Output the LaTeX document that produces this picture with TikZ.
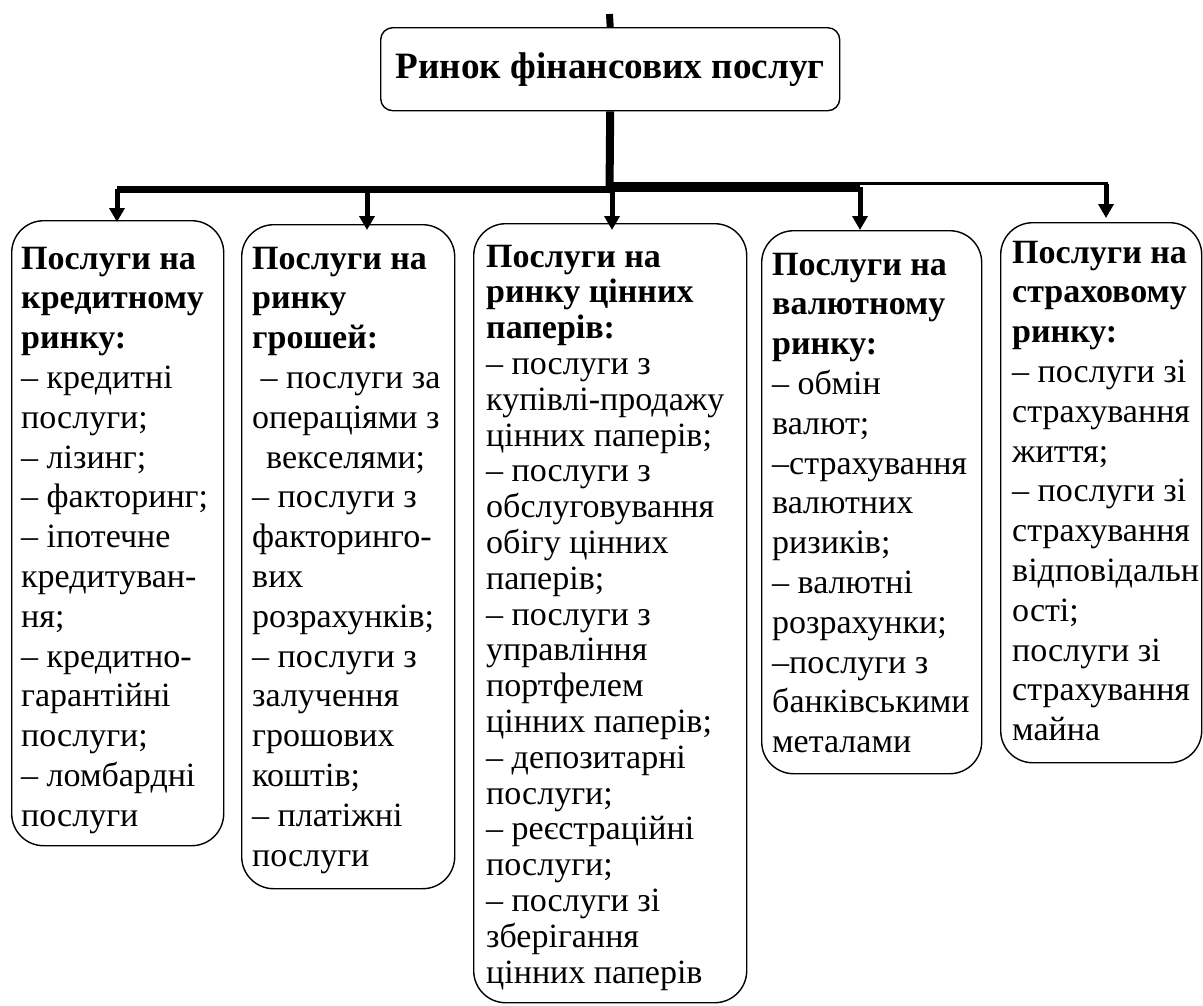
\documentclass[tikz,border=0pt]{standalone}
\usepackage{fontspec}
\setmainfont{Liberation Serif}
\usetikzlibrary{arrows.meta}
\newcommand{\stk}[2]{\vtop{\baselineskip=#1\lineskiplimit=-100pt\lineskip=0pt\relax #2}}
\newcommand{\rw}[1]{\hbox{#1}}
\newcommand{\bw}[1]{\hbox{\bfseries #1}}
\begin{document}
\begin{tikzpicture}[x=1pt,y=-1pt,
  topbox/.style={draw, line width=1.4pt, rounded corners=12pt, inner sep=0pt, anchor=north west,
    font=\fontsize{37.2}{44}\selectfont\bfseries},
  leaf/.style={draw, line width=1.4pt, rounded corners=32pt, inner sep=0pt, anchor=north west},
  txt/.style={inner sep=0pt, anchor=base west, font=\fontsize{34}{39.8}\selectfont},
  arr/.style={line width=5pt, -{Triangle[width=15pt,length=14pt]}},
  bus/.style={line width=#1},
]
\useasboundingbox (0,0) rectangle (1203,1005);

% top node
\node[topbox, minimum width=459pt, minimum height=83pt] (top) at (380,27) {Ринок фінансових послуг};

% leaf boxes
\node[leaf, minimum width=212pt, minimum height=625pt] (b1) at (11,220) {};
\node[leaf, minimum width=213pt, minimum height=664pt] (b2) at (241,224) {};
\node[leaf, minimum width=273pt, minimum height=779pt] (b3) at (473,223) {};
\node[leaf, minimum width=220pt, minimum height=543pt] (b4) at (761,230) {};
\node[leaf, minimum width=201pt, minimum height=540pt] (b5) at (1000,222) {};

% texts
\node[txt] (t1) at (21,269) {\stk{39.8pt}{%
\bw{Послуги на}\bw{кредитному}\bw{ринку:}%
\rw{– кредитні}\rw{послуги;}\rw{– лізинг;}\rw{– факторинг;}\rw{– іпотечне}%
\rw{кредитуван-}\rw{ня;}\rw{– кредитно-}\rw{гарантійні}\rw{послуги;}%
\rw{– ломбардні}\rw{послуги}}};

\node[txt] (t2) at (252,269) {\stk{39.8pt}{%
\bw{Послуги на}\bw{ринку}\bw{грошей:}%
\rw{ – послуги за}\rw{операціями з}\rw{\hspace{14pt}векселями;}\rw{– послуги з}%
\rw{факторинго-}\rw{вих}\rw{розрахунків;}\rw{– послуги з}\rw{залучення}%
\rw{грошових}\rw{коштів;}\rw{– платіжні}\rw{послуги}}};

\node[txt] (t3) at (486,267) {\stk{35.8pt}{%
\bw{Послуги на}\bw{ринку цінних}\bw{паперів:}%
\rw{– послуги з}\rw{купівлі-продажу}\rw{цінних паперів;}\rw{– послуги з}%
\rw{обслуговування}\rw{обігу цінних}\rw{паперів;}\rw{– послуги з}%
\rw{управління}\rw{портфелем}\rw{цінних паперів;}\rw{– депозитарні}%
\rw{послуги;}\rw{– реєстраційні}\rw{послуги;}\rw{– послуги зі}%
\rw{зберігання}\rw{цінних паперів}}};

\node[txt] (t4) at (772,275) {\stk{39.8pt}{%
\bw{Послуги на}\bw{валютному}\bw{ринку:}%
\rw{– обмін}\rw{валют;}\rw{–страхування}\rw{валютних}\rw{ризиків;}%
\rw{– валютні}\rw{розрахунки;}\rw{–послуги з}\rw{банківськими}\rw{металами}}};

\node[txt] (t5) at (1012,263) {\stk{39.8pt}{%
\bw{Послуги на}\bw{страховому}\bw{ринку:}%
\rw{– послуги зі}\rw{страхування}\rw{життя;}\rw{– послуги зі}\rw{страхування}%
\rw{відповідальн}\rw{ості;}\rw{послуги зі}\rw{страхування}\rw{майна}}};

% junction coordinates
\coordinate (stub) at (609.5,14);
\coordinate (jc) at (609.5,193);
\coordinate (j1) at (117,189);
\coordinate (jcl) at (613,189);
\coordinate (jr) at (606,187);
\coordinate (j4) at (860,187);
\coordinate (j4b) at (858,183.5);
\coordinate (j5) at (1108,183.5);
\coordinate (j2) at (367,189);
\coordinate (j3) at (612,189);
\coordinate (j5a) at (1106,183.5);

% stub and trunk
\draw[line width=7pt] (stub) -- (top.north);
\draw[line width=8pt] (top.south) -- (jc);

% bus
\draw[bus=7pt] (j1) -- (jcl);
\draw[bus=10pt] (jr) -- (j4);
\draw[bus=3.5pt] (j4b) -- (j5);

% arrows
\draw[arr, shorten >=-2pt] (j1) -- (j1 |- b1.north);
\draw[arr, shorten >=-6pt] (j2) -- (j2 |- b2.north);
\draw[arr, shorten >=-7pt] (j3) -- (j3 |- b3.north);
\draw[arr] (j4) -- (j4 |- b4.north);
\draw[arr, shorten >=4pt] (j5a) -- (j5a |- b5.north);
\end{tikzpicture}
\end{document}
